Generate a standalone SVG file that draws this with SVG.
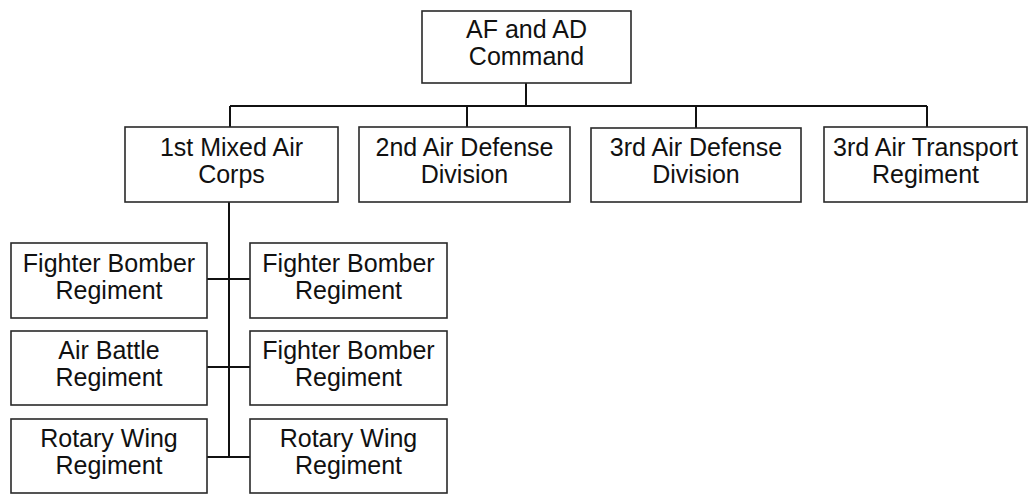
<svg xmlns="http://www.w3.org/2000/svg" width="1029" height="494" viewBox="0 0 1029 494">
<style>
.box{fill:#fff;stroke:#2a2a2a;stroke-width:1.6}
.lbl{font-family:"Liberation Sans",Arial,sans-serif;font-size:25px;fill:#111;text-anchor:middle}
.con{stroke:#111;stroke-width:2;fill:none}
</style>
<rect width="1029" height="494" fill="#fff"/>
<g id="connectors">
<path class="con" d="M526,83V106M230,106H927M230,106V127M467,106V127M696,106V128M927,106V127"/>
<path class="con" d="M229,202V457M207,279H250M207,367H250M207,457H250"/>
</g>
<g id="af-ad-command"><rect class="box" x="422" y="11" width="209" height="72"/><text class="lbl" x="526.5" y="38">AF and AD</text><text class="lbl" x="526.5" y="65">Command</text></g>
<g id="mixed-air-corps"><rect class="box" x="125" y="127" width="213" height="75"/><text class="lbl" x="231.5" y="156">1st Mixed Air</text><text class="lbl" x="231.5" y="183">Corps</text></g>
<g id="ad-div-2"><rect class="box" x="359" y="127" width="211" height="75"/><text class="lbl" x="464.5" y="156">2nd Air Defense</text><text class="lbl" x="464.5" y="183">Division</text></g>
<g id="ad-div-3"><rect class="box" x="591" y="128" width="210" height="74"/><text class="lbl" x="696" y="156">3rd Air Defense</text><text class="lbl" x="696" y="183">Division</text></g>
<g id="air-transport"><rect class="box" x="824" y="127" width="203" height="75"/><text class="lbl" x="925.5" y="156">3rd Air Transport</text><text class="lbl" x="925.5" y="183">Regiment</text></g>
<g id="fb-left"><rect class="box" x="11" y="243" width="196" height="75"/><text class="lbl" x="109" y="272">Fighter Bomber</text><text class="lbl" x="109" y="299">Regiment</text></g>
<g id="fb-right-1"><rect class="box" x="250" y="243" width="197" height="75"/><text class="lbl" x="348.5" y="272">Fighter Bomber</text><text class="lbl" x="348.5" y="299">Regiment</text></g>
<g id="air-battle"><rect class="box" x="11" y="331" width="196" height="74"/><text class="lbl" x="109" y="359">Air Battle</text><text class="lbl" x="109" y="386">Regiment</text></g>
<g id="fb-right-2"><rect class="box" x="250" y="331" width="197" height="74"/><text class="lbl" x="348.5" y="359">Fighter Bomber</text><text class="lbl" x="348.5" y="386">Regiment</text></g>
<g id="rw-left"><rect class="box" x="11" y="419" width="196" height="74"/><text class="lbl" x="109" y="447">Rotary Wing</text><text class="lbl" x="109" y="474">Regiment</text></g>
<g id="rw-right"><rect class="box" x="250" y="419" width="197" height="74"/><text class="lbl" x="348.5" y="447">Rotary Wing</text><text class="lbl" x="348.5" y="474">Regiment</text></g>
</svg>
